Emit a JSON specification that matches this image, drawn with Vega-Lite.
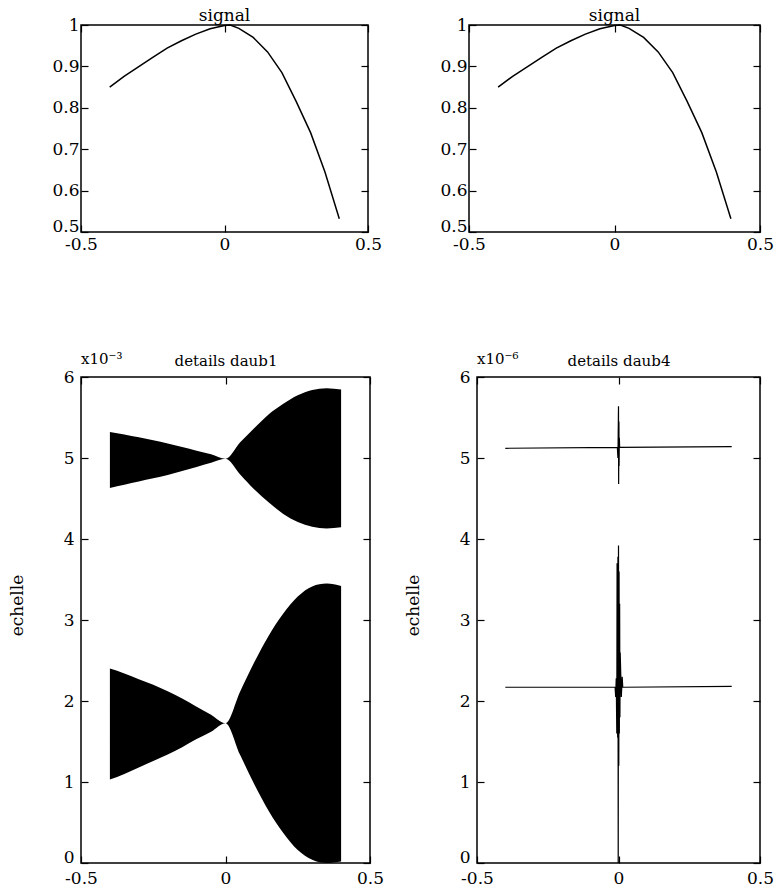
{
  "$schema": "https://vega.github.io/schema/vega-lite/v6.json",
  "padding": {"left": 7, "top": 5, "right": 0, "bottom": 0},
  "background": "white",
  "config": {
    "font": "DejaVu Serif",
    "view": {"stroke": "black", "strokeWidth": 1.5},
    "axis": {
      "grid": false, "domain": false,
      "tickColor": "black", "tickSize": -7, "tickWidth": 1.2,
      "labelColor": "black", "labelFont": "DejaVu Serif", "labelFontSize": 17,
      "titleFont": "DejaVu Serif", "titleFontWeight": "normal", "titleColor": "black", "titleFontSize": 17
    },
    "title": {"font": "DejaVu Serif", "fontWeight": "normal", "fontSize": 15, "color": "black"}
  },
  "datasets": {
    "signal": [
      {"x": -0.4, "y": 0.850}, {"x": -0.35, "y": 0.876}, {"x": -0.3, "y": 0.899},
      {"x": -0.25, "y": 0.922}, {"x": -0.2, "y": 0.944}, {"x": -0.15, "y": 0.962},
      {"x": -0.1, "y": 0.978}, {"x": -0.05, "y": 0.991}, {"x": 0.0, "y": 0.999},
      {"x": 0.02, "y": 1.0}, {"x": 0.05, "y": 0.992}, {"x": 0.1, "y": 0.970},
      {"x": 0.15, "y": 0.935}, {"x": 0.2, "y": 0.885}, {"x": 0.25, "y": 0.815},
      {"x": 0.3, "y": 0.740}, {"x": 0.35, "y": 0.645}, {"x": 0.4, "y": 0.532}
    ],
    "daub1": [
      {"band": "haut", "x": -0.4, "upper": 5.32, "lower": 4.63},
      {"band": "haut", "x": -0.35, "upper": 5.29, "lower": 4.67},
      {"band": "haut", "x": -0.3, "upper": 5.255, "lower": 4.71},
      {"band": "haut", "x": -0.25, "upper": 5.22, "lower": 4.75},
      {"band": "haut", "x": -0.2, "upper": 5.18, "lower": 4.79},
      {"band": "haut", "x": -0.15, "upper": 5.135, "lower": 4.84},
      {"band": "haut", "x": -0.1, "upper": 5.09, "lower": 4.89},
      {"band": "haut", "x": -0.05, "upper": 5.045, "lower": 4.94},
      {"band": "haut", "x": 0.0, "upper": 4.99, "lower": 4.99},
      {"band": "haut", "x": 0.05, "upper": 5.19, "lower": 4.80},
      {"band": "haut", "x": 0.1, "upper": 5.37, "lower": 4.61},
      {"band": "haut", "x": 0.15, "upper": 5.54, "lower": 4.45},
      {"band": "haut", "x": 0.2, "upper": 5.67, "lower": 4.31},
      {"band": "haut", "x": 0.25, "upper": 5.775, "lower": 4.21},
      {"band": "haut", "x": 0.3, "upper": 5.84, "lower": 4.15},
      {"band": "haut", "x": 0.35, "upper": 5.86, "lower": 4.13},
      {"band": "haut", "x": 0.4, "upper": 5.845, "lower": 4.145},
      {"band": "bas", "x": -0.4, "upper": 2.40, "lower": 1.03},
      {"band": "bas", "x": -0.35, "upper": 2.34, "lower": 1.10},
      {"band": "bas", "x": -0.3, "upper": 2.27, "lower": 1.18},
      {"band": "bas", "x": -0.25, "upper": 2.20, "lower": 1.26},
      {"band": "bas", "x": -0.2, "upper": 2.12, "lower": 1.34},
      {"band": "bas", "x": -0.15, "upper": 2.03, "lower": 1.43},
      {"band": "bas", "x": -0.1, "upper": 1.93, "lower": 1.53},
      {"band": "bas", "x": -0.05, "upper": 1.83, "lower": 1.62},
      {"band": "bas", "x": 0.0, "upper": 1.725, "lower": 1.725},
      {"band": "bas", "x": 0.05, "upper": 2.11, "lower": 1.34},
      {"band": "bas", "x": 0.1, "upper": 2.48, "lower": 0.97},
      {"band": "bas", "x": 0.15, "upper": 2.81, "lower": 0.64},
      {"band": "bas", "x": 0.2, "upper": 3.08, "lower": 0.37},
      {"band": "bas", "x": 0.25, "upper": 3.29, "lower": 0.16},
      {"band": "bas", "x": 0.3, "upper": 3.415, "lower": 0.04},
      {"band": "bas", "x": 0.35, "upper": 3.45, "lower": 0.0},
      {"band": "bas", "x": 0.4, "upper": 3.42, "lower": 0.02}
    ],
    "daub4": [
      {"series": "s1", "seq": 1, "x": -0.4, "y": 5.12},
      {"series": "s1", "seq": 2, "x": -0.004, "y": 5.13},
      {"series": "s1", "seq": 3, "x": -0.002, "y": 5.0},
      {"series": "s1", "seq": 4, "x": -0.001, "y": 5.3},
      {"series": "s1", "seq": 5, "x": 0.0, "y": 5.64},
      {"series": "s1", "seq": 6, "x": 0.0005, "y": 4.68},
      {"series": "s1", "seq": 7, "x": 0.0015, "y": 5.45},
      {"series": "s1", "seq": 8, "x": 0.002, "y": 4.9},
      {"series": "s1", "seq": 9, "x": 0.003, "y": 5.25},
      {"series": "s1", "seq": 10, "x": 0.004, "y": 5.13},
      {"series": "s1", "seq": 11, "x": 0.4, "y": 5.14},
      {"series": "s2", "seq": 1, "x": -0.4, "y": 2.17},
      {"series": "s2", "seq": 2, "x": -0.012, "y": 2.17},
      {"series": "s2", "seq": 3, "x": -0.010, "y": 2.05},
      {"series": "s2", "seq": 4, "x": -0.008, "y": 2.28},
      {"series": "s2", "seq": 5, "x": -0.006, "y": 1.6},
      {"series": "s2", "seq": 6, "x": -0.005, "y": 3.7},
      {"series": "s2", "seq": 7, "x": -0.003, "y": 1.55},
      {"series": "s2", "seq": 8, "x": -0.002, "y": 3.78},
      {"series": "s2", "seq": 9, "x": -0.001, "y": 0.0},
      {"series": "s2", "seq": 10, "x": 0.0, "y": 3.92},
      {"series": "s2", "seq": 11, "x": 0.001, "y": 1.2},
      {"series": "s2", "seq": 12, "x": 0.002, "y": 3.6},
      {"series": "s2", "seq": 13, "x": 0.003, "y": 1.6},
      {"series": "s2", "seq": 14, "x": 0.004, "y": 3.2},
      {"series": "s2", "seq": 15, "x": 0.005, "y": 1.8},
      {"series": "s2", "seq": 16, "x": 0.006, "y": 2.6},
      {"series": "s2", "seq": 17, "x": 0.010, "y": 2.05},
      {"series": "s2", "seq": 18, "x": 0.013, "y": 2.3},
      {"series": "s2", "seq": 19, "x": 0.015, "y": 2.17},
      {"series": "s2", "seq": 20, "x": 0.4, "y": 2.18}
    ]
  },
  "spacing": 98,
  "vconcat": [
    {
      "hconcat": [
        {
          "width": 287, "height": 207,
          "title": {"text": "signal", "offset": -8.5, "fontSize": 17},
          "layer": [
            {
              "data": {"name": "signal"},
              "mark": {"type": "line", "color": "black", "strokeWidth": 1.5},
              "encoding": {
                "x": {"field": "x", "type": "quantitative", "scale": {"domain": [-0.5, 0.5], "nice": false, "zero": false},
                      "axis": {"orient": "bottom", "values": [-0.5, 0, 0.5], "title": null, "labelFlush": false, "labelPadding": 11,
                               "labelExpr": "datum.value < 0 ? '-' + format(-datum.value, '~g') : format(datum.value, '~g')"}},
                "y": {"field": "y", "type": "quantitative", "scale": {"domain": [0.5, 1], "nice": false, "zero": false},
                      "axis": {"orient": "left", "values": [0.5, 0.6, 0.7, 0.8, 0.9, 1], "format": "~g", "title": null, "labelFlush": false, "labelPadding": 9,
                               "labelOffset": {"condition": {"test": "datum.value < 0.55", "value": -6}, "value": 0}}}
              }
            },
            {
              "data": {"name": "signal"},
              "mark": {"type": "line", "opacity": 0},
              "encoding": {
                "x": {"field": "x", "type": "quantitative", "scale": {"domain": [-0.5, 0.5], "nice": false, "zero": false},
                      "axis": {"orient": "top", "values": [-0.5, 0, 0.5], "title": null, "labels": false}},
                "y": {"field": "y", "type": "quantitative", "scale": {"domain": [0.5, 1], "nice": false, "zero": false},
                      "axis": {"orient": "right", "values": [0.5, 0.6, 0.7, 0.8, 0.9, 1], "title": null, "labels": false}}
              }
            }
          ],
          "resolve": {"scale": {"x": "independent", "y": "independent"}}
        },
        {
          "width": 291, "height": 207,
          "title": {"text": "signal", "offset": -8.5, "fontSize": 17},
          "layer": [
            {
              "data": {"name": "signal"},
              "mark": {"type": "line", "color": "black", "strokeWidth": 1.5},
              "encoding": {
                "x": {"field": "x", "type": "quantitative", "scale": {"domain": [-0.5, 0.5], "nice": false, "zero": false},
                      "axis": {"orient": "bottom", "values": [-0.5, 0, 0.5], "title": null, "labelFlush": false, "labelPadding": 11,
                               "labelExpr": "datum.value < 0 ? '-' + format(-datum.value, '~g') : format(datum.value, '~g')"}},
                "y": {"field": "y", "type": "quantitative", "scale": {"domain": [0.5, 1], "nice": false, "zero": false},
                      "axis": {"orient": "left", "values": [0.5, 0.6, 0.7, 0.8, 0.9, 1], "format": "~g", "title": null, "labelFlush": false, "labelPadding": 9,
                               "labelOffset": {"condition": {"test": "datum.value < 0.55", "value": -6}, "value": 0}}}
              }
            },
            {
              "data": {"name": "signal"},
              "mark": {"type": "line", "opacity": 0},
              "encoding": {
                "x": {"field": "x", "type": "quantitative", "scale": {"domain": [-0.5, 0.5], "nice": false, "zero": false},
                      "axis": {"orient": "top", "values": [-0.5, 0, 0.5], "title": null, "labels": false}},
                "y": {"field": "y", "type": "quantitative", "scale": {"domain": [0.5, 1], "nice": false, "zero": false},
                      "axis": {"orient": "right", "values": [0.5, 0.6, 0.7, 0.8, 0.9, 1], "title": null, "labels": false}}
              }
            }
          ],
          "resolve": {"scale": {"x": "independent", "y": "independent"}}
        }
      ],
      "spacing": 101,
      "bounds": "flush"
    },
    {
      "hconcat": [
        {
          "width": 289, "height": 486,
          "title": {"text": "x10⁻³", "anchor": "start", "frame": "group", "offset": -14},
          "layer": [
            {
              "data": {"name": "daub1"},
              "mark": {"type": "area", "color": "black", "opacity": 1, "interpolate": "monotone"},
              "encoding": {
                "x": {"field": "x", "type": "quantitative", "scale": {"domain": [-0.5, 0.5], "nice": false, "zero": false},
                      "axis": {"orient": "bottom", "values": [-0.5, 0, 0.5], "title": null, "labelFlush": false, "labelPadding": 14,
                               "labelExpr": "datum.value < 0 ? '-' + format(-datum.value, '~g') : format(datum.value, '~g')"}},
                "y": {"field": "upper", "type": "quantitative", "scale": {"domain": [0, 6], "nice": false, "zero": false},
                      "axis": {"orient": "left", "values": [0, 1, 2, 3, 4, 5, 6], "format": "~g", "labelFlush": false, "labelPadding": 14,
                               "labelOffset": {"condition": {"test": "datum.value < 0.5", "value": -6}, "value": 0},
                               "title": "echelle", "titleX": -64, "titleY": 228, "titleAngle": -90, "titleBaseline": "middle", "titleAlign": "center"}},
                "y2": {"field": "lower"},
                "detail": {"field": "band"}
              }
            },
            {
              "data": {"name": "daub1"},
              "mark": {"type": "point", "opacity": 0},
              "encoding": {
                "x": {"field": "x", "type": "quantitative", "scale": {"domain": [-0.5, 0.5], "nice": false, "zero": false},
                      "axis": {"orient": "top", "values": [-0.5, 0, 0.5], "labels": false, "title": "details daub1",
                               "titleFontSize": 15, "titleY": -12, "titleBaseline": "alphabetic"}},
                "y": {"field": "upper", "type": "quantitative", "scale": {"domain": [0, 6], "nice": false, "zero": false},
                      "axis": {"orient": "right", "values": [0, 1, 2, 3, 4, 5, 6], "title": null, "labels": false}}
              }
            }
          ],
          "resolve": {"scale": {"x": "independent", "y": "independent"}}
        },
        {
          "width": 283, "height": 486,
          "title": {"text": "x10⁻⁶", "anchor": "start", "frame": "group", "offset": -14},
          "layer": [
            {
              "data": {"name": "daub4"},
              "mark": {"type": "line", "color": "black", "strokeWidth": 1.2},
              "encoding": {
                "x": {"field": "x", "type": "quantitative", "scale": {"domain": [-0.5, 0.5], "nice": false, "zero": false},
                      "axis": {"orient": "bottom", "values": [-0.5, 0, 0.5], "title": null, "labelFlush": false, "labelPadding": 14,
                               "labelExpr": "datum.value < 0 ? '-' + format(-datum.value, '~g') : format(datum.value, '~g')"}},
                "y": {"field": "y", "type": "quantitative", "scale": {"domain": [0, 6], "nice": false, "zero": false},
                      "axis": {"orient": "left", "values": [0, 1, 2, 3, 4, 5, 6], "format": "~g", "labelFlush": false, "labelPadding": 14,
                               "labelOffset": {"condition": {"test": "datum.value < 0.5", "value": -6}, "value": 0},
                               "title": "echelle", "titleX": -64, "titleY": 228, "titleAngle": -90, "titleBaseline": "middle", "titleAlign": "center"}},
                "detail": {"field": "series"},
                "order": {"field": "seq", "type": "quantitative"}
              }
            },
            {
              "data": {"name": "daub4"},
              "mark": {"type": "point", "opacity": 0},
              "encoding": {
                "x": {"field": "x", "type": "quantitative", "scale": {"domain": [-0.5, 0.5], "nice": false, "zero": false},
                      "axis": {"orient": "top", "values": [-0.5, 0, 0.5], "labels": false, "title": "details daub4",
                               "titleFontSize": 15, "titleY": -12, "titleBaseline": "alphabetic"}},
                "y": {"field": "y", "type": "quantitative", "scale": {"domain": [0, 6], "nice": false, "zero": false},
                      "axis": {"orient": "right", "values": [0, 1, 2, 3, 4, 5, 6], "title": null, "labels": false}}
              }
            }
          ],
          "resolve": {"scale": {"x": "independent", "y": "independent"}}
        }
      ],
      "spacing": 107,
      "bounds": "flush"
    }
  ]
}
